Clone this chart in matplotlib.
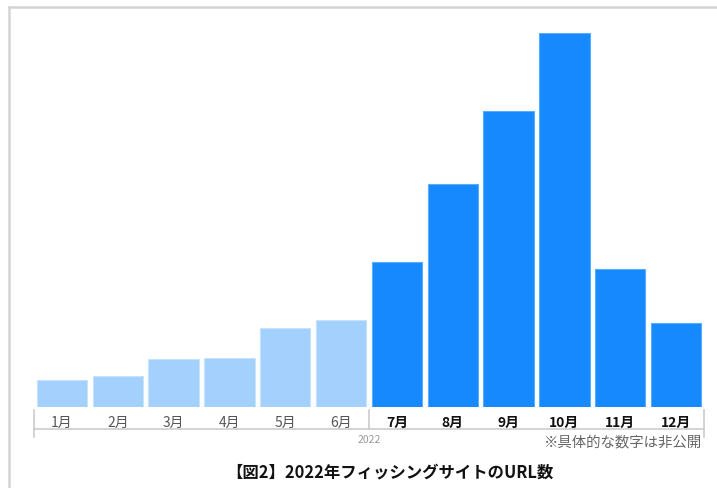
import matplotlib
matplotlib.use("Agg")
import matplotlib.pyplot as plt
from matplotlib.lines import Line2D

plt.rcParams['font.family'] = ['Noto Sans CJK JP', 'DejaVu Sans']

months = ["1月", "2月", "3月", "4月", "5月", "6月",
          "7月", "8月", "9月", "10月", "11月", "12月"]
counts = [27, 31, 48, 49, 79, 87, 145, 223, 296, 374, 138, 84]
highlight = [False] * 6 + [True] * 6

light = "#a3d0fc"
dark = "#1589fd"

W, H = 717, 489
fig = plt.figure(figsize=(W / 100, H / 100), dpi=100)
fig.patch.set_facecolor("white")

# axes placed in pixel terms
left, right, bottom, top = 34, 704, 408, 34
ax = fig.add_axes([left / W, 1 - bottom / H, (right - left) / W, (bottom - top) / H])
ax.set_xlim(-0.5, len(months) - 0.5)
ax.set_ylim(0, max(counts))
ax.axis("off")

x = list(range(len(months)))
colors = [dark if h else light for h in highlight]
edges = ["#5aacff" if h else "#c6e2fd" for h in highlight]
ax.bar(x, counts, width=0.9, color=colors, edgecolor=edges, linewidth=0.8)

# category axis below the bars
tr = ax.get_xaxis_transform()
hgt = bottom - top
def fy(px):
    return -px / hgt

line_c = "#cccccc"
ax.add_line(Line2D([-0.5, 11.5], [fy(22), fy(22)], transform=tr, color=line_c, lw=1.2, clip_on=False))
ax.add_line(Line2D([-0.5, -0.5], [fy(3), fy(30)], transform=tr, color=line_c, lw=1.2, clip_on=False))
ax.add_line(Line2D([5.5, 5.5], [fy(3), fy(22)], transform=tr, color=line_c, lw=1.2, clip_on=False))
ax.add_line(Line2D([11.5, 11.5], [fy(3), fy(30)], transform=tr, color=line_c, lw=1.2, clip_on=False))

for i, (m, h) in enumerate(zip(months, highlight)):
    ax.text(i, fy(14.5), m, transform=tr, ha="center", va="center",
            fontsize=10, fontweight="bold" if h else "normal",
            color="#111111" if h else "#555555")

ax.text(5.5, fy(32), "2022", transform=tr, ha="center", va="center",
        fontsize=7.5, color="#999999")
ax.text(11.45, fy(34), "※具体的な数字は非公開", transform=tr, ha="right", va="center",
        fontsize=10.4, color="#666666")

fig.text(390 / W, 1 - 472 / H, "【図2】2022年フィッシングサイトのURL数",
         ha="center", va="center", fontsize=11.8, fontweight="bold", color="#111111")

# outer frame (left and top edges)
fig.add_artist(Line2D([9 / W, 9 / W], [0, 1 - 8 / H], transform=fig.transFigure, color="#d4d4d4", lw=1.8))
fig.add_artist(Line2D([9 / W, 1], [1 - 8 / H, 1 - 8 / H], transform=fig.transFigure, color="#d4d4d4", lw=1.8))

fig.savefig("out.png", dpi=100, facecolor="white")
